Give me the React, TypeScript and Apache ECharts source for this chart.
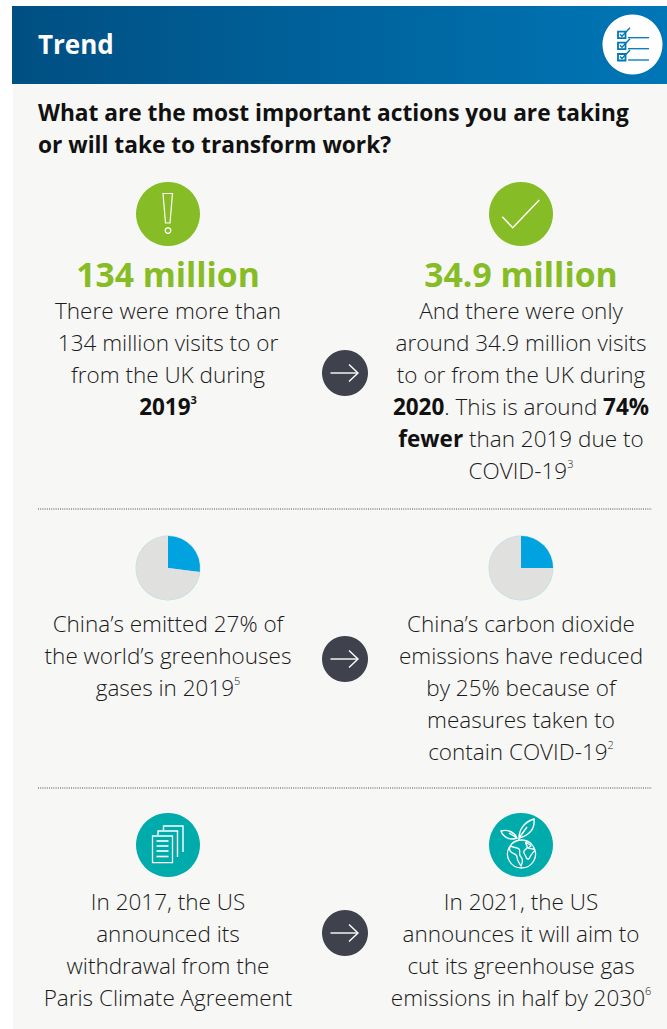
import React, { useEffect, useRef } from "react";
import * as echarts from "echarts";

const headerTitle = "Trend";
const questionLines = [
  "What are the most important actions you are taking",
  "or will take to transform work?",
];
const visitsBefore = "134 million";
const visitsAfter = "34.9 million";
const visitsBeforeLines = [
  "There were more than",
  "134 million visits to or",
  "from the UK during",
  "{b|2019}{s|3}",
];
const visitsAfterLines = [
  "And there were only",
  "around 34.9 million visits",
  "to or from the UK during",
  "{b|2020}{n|. This is around }{b|74%}",
  "{b|fewer}{n| than 2019 due to}",
  "{n|COVID-19}{t|3}",
];
const emissionsBeforeLines = [
  "China’s emitted 27% of",
  "the world’s greenhouses",
  "{n|gases in 2019}{t|5}",
];
const emissionsAfterLines = [
  "China’s carbon dioxide",
  "emissions have reduced",
  "by 25% because of",
  "measures taken to",
  "{n|contain COVID-19}{t|2}",
];
const parisBeforeLines = [
  "In 2017, the US",
  "announced its",
  "withdrawal from the",
  "Paris Climate Agreement",
];
const parisAfterLines = [
  "In 2021, the US",
  "announces it will aim to",
  "cut its greenhouse gas",
  "{n|emissions in half by 2030}{t|6}",
];
const emissionShare2019 = [27, 73];
const emissionReduction = [25, 75];

const FONT = '"Open Sans", "Noto Sans", sans-serif';
const INK = "#1a1a1a";
const GREEN = "#86bc25";
const TEAL = "#00abab";
const DARK = "#3f424d";
const BLUE = "#0076b6";
const BODY_SIZE = 22.5;

const globeIcon =
  "M521.5 840a14 14 0 1 0 .01 0Z M511 846c2 2 6 1 8 3s-1 5 2 8 1 6 0 9c-2-3-4-6-4-9s-4-3-6-5-2-4 0-6Z M526 842c1 2 4 2 5 4l-3 2c1 1 5 0 7 2-2 3-4 4-5 7s-3 3-4 0-3-4-2-6 4-2 3-5-2-2-1-4Z";
const leafIcon =
  "M519 838c0-8 5-16 15-19 1 9-4 16-15 19Z M519 838l8-11 M517 838c-3-6-9-9-16-7 2 6 9 10 16 7Z M517 838l-8-5 M519 838v2";

echarts.graphic.registerShape("globeOutline", echarts.graphic.extendPath(globeIcon, {}) as any);
echarts.graphic.registerShape("leafOutline", echarts.graphic.extendPath(leafIcon, {}) as any);

const richStyles = {
  n: { font: `300 ${BODY_SIZE}px ${FONT}`, fill: INK, lineHeight: 25 },
  b: { font: `700 ${BODY_SIZE}px ${FONT}`, fill: "#111", lineHeight: 25 },
  s: { font: `700 11px ${FONT}`, fill: "#111", verticalAlign: "top", lineHeight: 17 },
  t: { font: `300 11px ${FONT}`, fill: INK, verticalAlign: "top", lineHeight: 17 },
};

// One centred paragraph, one text element per line.
function paragraph(lines: string[], cx: number, firstY: number) {
  return lines.map((line, i) => ({
    type: "text",
    x: cx,
    y: firstY + i * 32,
    z: 5,
    style: {
      text: line,
      align: "center",
      verticalAlign: "middle",
      font: `300 ${BODY_SIZE}px ${FONT}`,
      fill: INK,
      rich: richStyles,
    },
  }));
}

function disc(cx: number, cy: number, r: number, fill: string) {
  return { type: "circle", z: 3, shape: { cx, cy, r }, style: { fill } };
}

function stroke(points: number[][], lineWidth = 1.5, color = "#fff") {
  return {
    type: "polyline",
    z: 4,
    shape: { points },
    style: { stroke: color, fill: "none", lineWidth },
  };
}

function arrowBadge(cy: number) {
  return [
    disc(345, cy, 23, DARK),
    stroke([[330.5, cy], [357, cy]], 1.4),
    stroke([[349, cy - 8.5], [358, cy], [349, cy + 8.5]], 1.4),
  ];
}

function dottedRule(y: number) {
  return {
    type: "line",
    z: 2,
    shape: { x1: 38, y1: y, x2: 652, y2: y },
    style: { stroke: "#4d4d4d", lineWidth: 1, lineDash: [1, 1.2] },
  };
}

function checklistRow(top: number) {
  return [
    {
      type: "rect",
      z: 4,
      shape: { x: 618, y: top, width: 7.5, height: 6.5 },
      style: { fill: "#fff", stroke: BLUE, lineWidth: 1.8 },
    },
    stroke([[620, top + 2.5], [622, top + 4.5], [630, top - 4]], 1.4, BLUE),
    stroke([[628, top + 6], [649, top + 6]], 1.3, BLUE),
  ];
}

function pieSeries(center: number[], data: number[]) {
  return {
    type: "pie",
    silent: true,
    center,
    radius: [0, 32],
    startAngle: 90,
    label: { show: false },
    labelLine: { show: false },
    color: ["#00a3e0", "#e0e0de"],
    data,
    z: 4,
  };
}

function buildOption() {
  const docLines = [841, 846, 851, 856.5].map((y) => stroke([[156.5, y], [168.5, y]], 1.6));
  return {
    animation: false,
    backgroundColor: "#ffffff",
    series: [pieSeries([168, 568], emissionShare2019), pieSeries([521, 568], emissionReduction)],
    graphic: {
      elements: [
        // Page panel and title band
        { type: "rect", z: 0, shape: { x: 13, y: 84, width: 654, height: 945 }, style: { fill: "#f7f7f5" } },
        {
          type: "rect",
          z: 1,
          shape: { x: 12, y: 6, width: 655, height: 78 },
          style: {
            fill: new echarts.graphic.LinearGradient(0, 0, 1, 0, [
              { offset: 0, color: "#004f82" },
              { offset: 1, color: BLUE },
            ]),
          },
        },
        {
          type: "text",
          x: 38,
          y: 43.5,
          z: 5,
          style: { text: headerTitle, font: `700 26px ${FONT}`, fill: "#fff", verticalAlign: "middle" },
        },
        disc(632.5, 44.5, 30, "#fff"),
        ...[31.7, 42.7, 54].flatMap(checklistRow),
        ...questionLines.map((line, i) => ({
          type: "text",
          x: 38,
          y: 112 + i * 32,
          z: 5,
          style: { text: line, font: `700 22.7px ${FONT}`, fill: "#111", verticalAlign: "middle" },
        })),

        // Visits row
        disc(168, 214, 32, GREEN),
        {
          type: "polygon",
          z: 4,
          shape: { points: [[163, 193.5], [172.5, 193.5], [170, 223], [165.5, 223]] },
          style: { fill: "none", stroke: "#fff", lineWidth: 1.2 },
        },
        { type: "circle", z: 4, shape: { cx: 168, cy: 230.5, r: 2.8 }, style: { fill: "none", stroke: "#fff", lineWidth: 1.3 } },
        disc(521, 214, 32, GREEN),
        stroke([[502.3, 216.7], [512.7, 227.7], [539.3, 200]], 1.5),
        {
          type: "text",
          x: 168,
          y: 274,
          z: 5,
          style: { text: visitsBefore, align: "center", verticalAlign: "middle", font: `700 33.7px ${FONT}`, fill: GREEN },
        },
        {
          type: "text",
          x: 521,
          y: 274,
          z: 5,
          style: { text: visitsAfter, align: "center", verticalAlign: "middle", font: `700 33.7px ${FONT}`, fill: GREEN },
        },
        ...paragraph(visitsBeforeLines, 168, 310),
        ...paragraph(visitsAfterLines, 521, 310),
        ...arrowBadge(373),
        dottedRule(509),

        // Emissions row: faint rims around the pies
        { type: "circle", z: 3, shape: { cx: 168, cy: 568, r: 32.4 }, style: { fill: "#b4dcec" } },
        { type: "circle", z: 3, shape: { cx: 521, cy: 568, r: 32.4 }, style: { fill: "#b4dcec" } },
        ...paragraph(emissionsBeforeLines, 168, 623),
        ...paragraph(emissionsAfterLines, 521, 623),
        ...arrowBadge(659),
        dottedRule(788),

        // Climate agreement row
        disc(168, 845, 32, TEAL),
        {
          type: "rect",
          z: 4,
          shape: { x: 152.5, y: 836, width: 20, height: 26.7 },
          style: { fill: "none", stroke: "#fff", lineWidth: 1.3 },
        },
        ...docLines,
        stroke([[158, 835], [158, 831], [177.5, 831], [177.5, 857]], 1.4),
        stroke([[163.5, 830], [163.5, 826], [183, 826], [183, 852]], 1.4),
        disc(521, 845, 32, TEAL),
        {
          type: "globeOutline",
          z: 4,
          style: { fill: "none", stroke: "#fff", lineWidth: 1.3 },
        },
        {
          type: "leafOutline",
          z: 4,
          style: { fill: "none", stroke: "#fff", lineWidth: 1.4 },
        },
        ...paragraph(parisBeforeLines, 168, 901),
        ...paragraph(parisAfterLines, 521, 901),
        ...arrowBadge(933),
      ],
    },
  };
}

export default function App() {
  const hostRef = useRef<HTMLDivElement>(null);

  useEffect(() => {
    document.body.style.margin = "0";
    const chart = echarts.init(hostRef.current!, undefined, { renderer: "svg" });
    chart.setOption(buildOption() as any);
    return () => chart.dispose();
  }, []);

  return <div ref={hostRef} style={{ width: 667, height: 1029 }} />;
}
